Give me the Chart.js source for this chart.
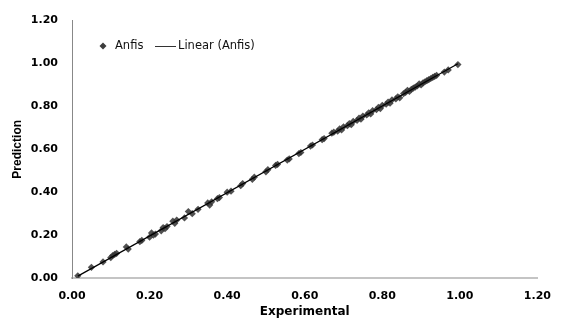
<!DOCTYPE html>
<html>
<head>
<meta charset="utf-8">
<script src="https://cdn.jsdelivr.net/npm/chart.js@4.4.1/dist/chart.umd.min.js"></script>
<style>
  html, body { margin: 0; padding: 0; background: #fff; }
  #wrap { width: 563px; height: 320px; position: relative; }
</style>
</head>
<body>
<div id="wrap"><canvas id="c" width="563" height="320"></canvas></div>
<script>
// ---- data ----
const experimental = [
  0.015, 0.05, 0.08, 0.10, 0.105, 0.11, 0.115, 0.14, 0.145, 0.175,
  0.18, 0.20, 0.205, 0.21, 0.215, 0.23, 0.235, 0.24, 0.245, 0.26,
  0.265, 0.27, 0.29, 0.30, 0.31, 0.325, 0.35, 0.355, 0.36, 0.375,
  0.38, 0.40, 0.41, 0.435, 0.44, 0.465, 0.47, 0.50, 0.505, 0.525,
  0.53, 0.555, 0.56, 0.585, 0.59, 0.615, 0.62, 0.645, 0.65, 0.67,
  0.675, 0.685, 0.69, 0.695, 0.70, 0.71, 0.715, 0.72, 0.725, 0.735,
  0.74, 0.745, 0.75, 0.76, 0.765, 0.77, 0.775, 0.785, 0.79, 0.795,
  0.80, 0.81, 0.815, 0.82, 0.825, 0.835, 0.84, 0.845, 0.855, 0.86,
  0.865, 0.87, 0.875, 0.88, 0.885, 0.89, 0.895, 0.90, 0.905, 0.91,
  0.915, 0.92, 0.925, 0.93, 0.935, 0.94, 0.96, 0.97, 0.995
];
const prediction = [
  0.01, 0.05, 0.075, 0.095, 0.105, 0.11, 0.115, 0.145, 0.135, 0.17,
  0.175, 0.19, 0.21, 0.20, 0.205, 0.22, 0.235, 0.23, 0.24, 0.265,
  0.255, 0.27, 0.28, 0.31, 0.30, 0.32, 0.35, 0.34, 0.355, 0.37,
  0.375, 0.40, 0.405, 0.43, 0.44, 0.46, 0.47, 0.495, 0.505, 0.525,
  0.53, 0.55, 0.555, 0.58, 0.585, 0.615, 0.62, 0.645, 0.65, 0.675,
  0.68, 0.685, 0.695, 0.69, 0.705, 0.71, 0.72, 0.715, 0.73, 0.735,
  0.745, 0.74, 0.755, 0.76, 0.77, 0.765, 0.78, 0.785, 0.795, 0.79,
  0.805, 0.81, 0.82, 0.815, 0.83, 0.835, 0.845, 0.84, 0.86, 0.865,
  0.875, 0.87, 0.88, 0.885, 0.89, 0.895, 0.905, 0.90, 0.91, 0.915,
  0.92, 0.925, 0.93, 0.935, 0.94, 0.945, 0.96, 0.97, 0.995
];
const seriesName = "Anfis";
const trendName = "Linear (Anfis)";
const xTitle = "Experimental";
const yTitle = "Prediction";
const axisMin = 0;
const axisMax = 1.2;
const axisStep = 0.2;

// ---- build datasets ----
const points = experimental.map((x, i) => ({ x: x, y: prediction[i] }));
// least-squares linear trendline from the data
const n = points.length;
let sx = 0, sy = 0, sxx = 0, sxy = 0;
points.forEach(p => { sx += p.x; sy += p.y; sxx += p.x * p.x; sxy += p.x * p.y; });
const slope = (n * sxy - sx * sy) / (n * sxx - sx * sx);
const intercept = (sy - slope * sx) / n;
const xMin = Math.min(...experimental), xMax = Math.max(...experimental);
const trend = [
  { x: xMin, y: intercept + slope * xMin },
  { x: xMax, y: intercept + slope * xMax }
];

const legendPlugin = {
  id: 'customLegend',
  afterDraw(chart) {
    const ctx = chart.ctx;
    ctx.save();
    const y = 46;
    ctx.fillStyle = '#3c3c3c';
    ctx.beginPath();
    ctx.moveTo(103, y - 3.5); ctx.lineTo(106.5, y); ctx.lineTo(103, y + 3.5); ctx.lineTo(99.5, y);
    ctx.closePath(); ctx.fill();
    ctx.font = '11.5px "DejaVu Sans", sans-serif';
    ctx.fillStyle = '#111';
    ctx.textBaseline = 'middle';
    ctx.textAlign = 'left';
    ctx.fillText(seriesName, 115, y);
    ctx.strokeStyle = '#333';
    ctx.lineWidth = 1;
    ctx.beginPath(); ctx.moveTo(155, y + 0.5); ctx.lineTo(176, y + 0.5); ctx.stroke();
    ctx.fillText(trendName, 178, y);
    ctx.restore();
  }
};

const fmt = v => v.toFixed(2);

new Chart(document.getElementById('c'), {
  type: 'scatter',
  data: {
    datasets: [
      {
        label: seriesName,
        data: points,
        pointStyle: 'rectRot',
        pointRadius: 3.6,
        pointBackgroundColor: 'rgba(50,50,50,0.85)',
        pointBorderColor: 'rgba(50,50,50,0.85)',
        pointBorderWidth: 0,
        showLine: false,
        order: 2
      },
      {
        type: 'line',
        label: trendName,
        data: trend,
        borderColor: '#000',
        borderWidth: 1.2,
        pointRadius: 0,
        fill: false,
        order: 1
      }
    ]
  },
  options: {
    responsive: false,
    animation: false,
    devicePixelRatio: 1,
    layout: { padding: { top: 17, right: 15, left: 0, bottom: 0 } },
    plugins: { legend: { display: false }, tooltip: { enabled: false } },
    scales: {
      x: {
        type: 'linear',
        min: axisMin, max: axisMax,
        afterFit(s) { s.height = 42; },
        ticks: {
          stepSize: axisStep,
          callback: fmt,
          color: '#000',
          padding: 12,
          maxRotation: 0,
          font: { family: '"DejaVu Sans", sans-serif', size: 11, weight: 'bold' }
        },
        grid: { display: false, drawTicks: false },
        border: { display: true, color: '#c4c4c4', width: 2 },
        title: {
          display: true, text: xTitle, color: '#000',
          font: { family: '"DejaVu Sans", sans-serif', size: 12, weight: 'bold' },
          padding: { top: 0, bottom: 1 }
        }
      },
      y: {
        type: 'linear',
        min: axisMin, max: axisMax,
        afterFit(s) { s.width = 72; },
        ticks: {
          stepSize: axisStep,
          callback: fmt,
          color: '#000',
          padding: 14,
          font: { family: '"DejaVu Sans", sans-serif', size: 11, weight: 'bold' }
        },
        grid: { display: false, drawTicks: false },
        border: { display: true, color: '#888', width: 1 },
        title: {
          display: true, text: yTitle, color: '#000',
          font: { family: '"Liberation Sans", sans-serif', size: 12, weight: 'bold' },
          padding: { top: 10, bottom: 0 }
        }
      }
    }
  },
  plugins: [legendPlugin]
});
</script>
</body>
</html>
